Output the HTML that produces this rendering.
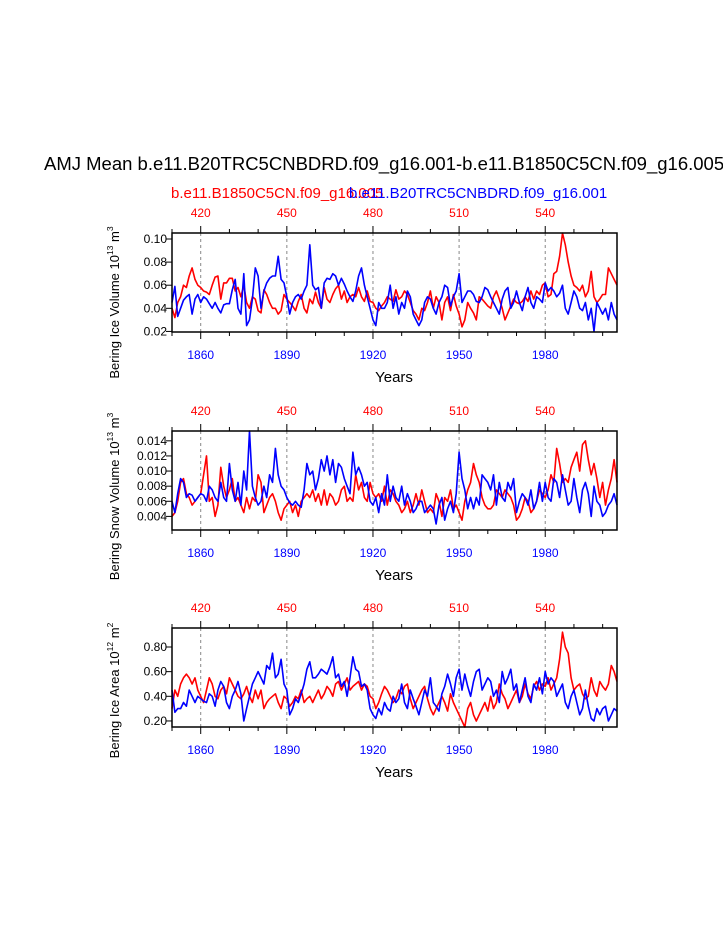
<!DOCTYPE html>
<html><head><meta charset="utf-8"><style>
body{margin:0;background:#fff;width:723px;height:935px;overflow:hidden}
svg{font-family:"Liberation Sans",sans-serif}
</style></head><body>
<svg id="chart" width="723" height="935" xmlns="http://www.w3.org/2000/svg">
<text x="44" y="170" font-size="18.5">AMJ Mean b.e11.B20TRC5CNBDRD.f09_g16.001-b.e11.B1850C5CN.f09_g16.005</text>
<text x="171" y="198" font-size="15" fill="#f00">b.e11.B1850C5CN.f09_g16.005</text>
<text x="349" y="198" font-size="15" fill="#00f">b.e11.B20TRC5CNBDRD.f09_g16.001</text>
</svg>
<script>
const years0 = 1850;
const redYear0 = 410;
const xTicksBottom = [1860,1890,1920,1950,1980];
const xTicksTop = [420,450,480,510,540];
const iceVolBlue = [.045,.059,.033,.040,.047,.050,.052,.035,.048,.052,.045,.050,.048,.044,.040,.045,.040,.036,.043,.044,.044,.056,.065,.040,.035,.070,.025,.030,.048,.075,.068,.040,.055,.062,.066,.068,.068,.085,.065,.062,.050,.035,.045,.050,.052,.048,.055,.060,.095,.060,.056,.058,.040,.062,.066,.065,.070,.068,.060,.066,.061,.055,.050,.046,.055,.068,.075,.060,.050,.040,.030,.025,.045,.040,.040,.045,.060,.040,.050,.035,.045,.040,.055,.050,.035,.030,.025,.030,.045,.050,.048,.040,.035,.045,.050,.060,.058,.042,.050,.055,.070,.045,.050,.055,.055,.052,.046,.045,.050,.058,.056,.050,.045,.040,.035,.048,.055,.058,.040,.045,.055,.045,.038,.050,.058,.045,.040,.050,.048,.045,.062,.055,.058,.055,.050,.053,.060,.040,.035,.045,.055,.050,.040,.038,.045,.030,.040,.020,.045,.040,.035,.040,.030,.045,.035,.030];
const iceVolRed = [.040,.032,.045,.050,.060,.058,.068,.075,.065,.060,.058,.055,.054,.052,.060,.067,.068,.048,.062,.062,.066,.066,.055,.058,.050,.060,.045,.040,.050,.048,.038,.036,.056,.052,.045,.040,.040,.035,.038,.052,.048,.045,.042,.038,.046,.052,.040,.036,.048,.044,.054,.045,.040,.058,.048,.045,.052,.057,.060,.048,.055,.045,.050,.052,.050,.058,.050,.046,.055,.046,.045,.040,.038,.042,.045,.050,.048,.046,.056,.048,.050,.055,.052,.045,.038,.035,.030,.040,.038,.045,.055,.040,.050,.045,.030,.045,.050,.038,.052,.042,.035,.024,.030,.045,.040,.036,.030,.050,.048,.045,.042,.040,.050,.055,.048,.040,.030,.036,.042,.048,.045,.044,.046,.050,.046,.055,.048,.055,.052,.060,.062,.050,.052,.070,.072,.085,.105,.095,.080,.068,.060,.058,.055,.060,.050,.055,.072,.050,.045,.048,.052,.052,.075,.070,.065,.060];
const snowBlue = [.006,.0045,.007,.009,.0085,.0065,.007,.0068,.006,.0065,.007,.0068,.006,.008,.0075,.0065,.006,.0085,.0065,.006,.011,.0075,.006,.0085,.0055,.010,.0075,.0153,.008,.0065,.0055,.006,.008,.0065,.0095,.0085,.013,.0095,.008,.0075,.0065,.0058,.0055,.006,.0055,.0052,.0075,.011,.0095,.010,.0075,.009,.0115,.010,.012,.0095,.0115,.0085,.011,.0105,.009,.008,.007,.0125,.0095,.0105,.0095,.008,.0085,.006,.0055,.0065,.0045,.007,.0055,.0095,.006,.008,.0065,.006,.008,.0055,.007,.006,.0045,.005,.006,.006,.0045,.005,.0055,.005,.003,.0055,.0065,.0035,.005,.006,.0045,.007,.0125,.009,.0075,.005,.0065,.005,.0065,.0055,.0095,.009,.0085,.0075,.0095,.0055,.0085,.0065,.006,.0085,.0075,.009,.0045,.006,.007,.0065,.0055,.0075,.005,.006,.0085,.006,.0085,.0065,.006,.009,.0085,.0065,.0095,.0075,.0055,.006,.009,.0065,.0045,.0075,.0085,.007,.004,.008,.006,.0055,.004,.0045,.0055,.006,.007,.0055];
const snowRed = [.004,.0045,.006,.0085,.009,.007,.0065,.0055,.006,.0065,.007,.0095,.012,.006,.0065,.004,.0055,.0105,.008,.0065,.0075,.009,.006,.0065,.0055,.0045,.0065,.005,.0065,.006,.0095,.0085,.0045,.0055,.0065,.007,.006,.0045,.0035,.005,.0055,.006,.0045,.0055,.004,.006,.0065,.007,.0065,.0075,.006,.007,.0055,.0075,.0055,.007,.0065,.0055,.006,.0075,.008,.006,.0065,.006,.0095,.0075,.0085,.0065,.006,.0085,.007,.0065,.007,.006,.008,.0055,.0075,.007,.006,.0055,.0045,.005,.006,.0045,.0055,.007,.0055,.0075,.006,.0045,.005,.0045,.007,.006,.004,.0065,.006,.0075,.005,.0055,.0045,.0035,.006,.0075,.0085,.011,.0095,.0085,.0065,.0055,.005,.005,.0055,.0075,.007,.0065,.0075,.007,.0065,.0055,.0035,.004,.005,.0065,.006,.0045,.005,.006,.0075,.007,.0065,.0075,.0095,.0085,.013,.011,.0085,.009,.0085,.0105,.0115,.0125,.010,.0135,.014,.0115,.0095,.011,.009,.0065,.0085,.0055,.0075,.009,.0115,.0085];
const areaBlue = [.45,.27,.30,.30,.35,.32,.45,.40,.35,.40,.38,.36,.35,.42,.40,.32,.45,.52,.48,.35,.30,.40,.45,.52,.42,.20,.30,.40,.50,.55,.60,.55,.50,.65,.62,.75,.55,.58,.70,.50,.45,.25,.30,.38,.35,.42,.50,.62,.68,.55,.55,.58,.62,.60,.58,.64,.72,.55,.58,.48,.52,.40,.55,.72,.62,.60,.48,.50,.45,.30,.25,.22,.30,.25,.35,.30,.28,.40,.35,.38,.50,.35,.30,.45,.38,.32,.25,.35,.45,.40,.55,.35,.32,.28,.42,.48,.58,.50,.40,.55,.62,.45,.58,.48,.40,.52,.60,.62,.45,.50,.55,.52,.40,.45,.35,.60,.50,.55,.62,.45,.50,.35,.45,.55,.40,.35,.50,.45,.55,.42,.60,.50,.55,.52,.40,.45,.50,.35,.30,.40,.45,.35,.25,.30,.45,.32,.22,.20,.30,.25,.30,.32,.20,.25,.30,.28];
const areaRed = [.30,.45,.40,.50,.55,.58,.55,.50,.55,.45,.40,.35,.45,.55,.50,.40,.38,.45,.48,.42,.55,.50,.45,.40,.38,.42,.48,.40,.35,.45,.38,.45,.30,.35,.38,.40,.42,.35,.30,.40,.38,.32,.35,.40,.38,.45,.35,.38,.40,.35,.40,.45,.38,.42,.48,.45,.40,.50,.52,.45,.50,.55,.45,.48,.50,.52,.45,.50,.48,.40,.38,.30,.35,.42,.48,.45,.40,.35,.38,.45,.42,.48,.50,.38,.30,.35,.40,.45,.48,.38,.30,.25,.30,.35,.40,.35,.28,.42,.35,.30,.25,.20,.15,.30,.35,.25,.20,.25,.30,.35,.28,.40,.30,.35,.50,.42,.38,.30,.35,.40,.45,.35,.40,.50,.42,.38,.48,.52,.45,.50,.48,.55,.45,.50,.55,.70,.92,.80,.75,.55,.45,.48,.50,.42,.38,.40,.55,.45,.40,.52,.48,.45,.50,.65,.60,.52];
const volTicks = [0.02,0.04,0.06,0.08,0.10];
const volLabels = ["0.02","0.04","0.06","0.08","0.10"];
const snowTicks = [0.004,0.006,0.008,0.010,0.012,0.014];
const snowLabels = ["0.004","0.006","0.008","0.010","0.012","0.014"];
const areaTicks = [0.2,0.4,0.6,0.8];
const areaLabels = ["0.20","0.40","0.60","0.80"];

const NS="http://www.w3.org/2000/svg";
const svg=document.getElementById('chart');
function mk(tag,attrs,parent){const e=document.createElementNS(NS,tag);for(const k in attrs)e.setAttribute(k,attrs[k]);(parent||svg).appendChild(e);return e;}
const L=172,R=617;
const xS=y=>L+(y-1850)*(R-L)/155;

function panel(name,top,bot,ymin,ymax,ticks,labels,blue,red,titleMain,titleExp,titleUnit,unitExp,cyOff){
  const g=mk('g',{});
  
  
  const yS=v=>bot-(v-ymin)*(bot-top)/(ymax-ymin);
  xTicksBottom.forEach(t=>{const l=mk('line',{x1:xS(t),x2:xS(t),y1:top,y2:bot,stroke:'#888','stroke-dasharray':'3,3','stroke-width':1},g);
    
    });
  [[red,'#f00','red-series'],[blue,'#00f','blue-series']].forEach(([d,c,n])=>{
    const p=mk('polyline',{fill:'none',stroke:c,'stroke-width':1.6,'stroke-linejoin':'round',points:d.map((v,i)=>xS(years0+i).toFixed(1)+','+yS(v).toFixed(1)).join(' ')},g);
    
    
  });
  const b=mk('rect',{x:L,y:top,width:R-L,height:bot-top,fill:'none',stroke:'#000','stroke-width':1.5},g);
  
  
  for(let yr=1850;yr<=2005;yr+=10){
    const maj=(yr-1860)%30===0, len=maj?7:4;
    mk('line',{x1:xS(yr),x2:xS(yr),y1:bot,y2:bot+len,stroke:'#000'},g);
    mk('line',{x1:xS(yr),x2:xS(yr),y1:top,y2:top-len,stroke:'#000'},g);
  }
  xTicksBottom.forEach(t=>{const e=mk('text',{x:xS(t),y:bot+27,'font-size':12,fill:'#00f','text-anchor':'middle'},g);e.textContent=t;
    
    });
  xTicksTop.forEach(t=>{const e=mk('text',{x:xS(t-redYear0+1850),y:top-16,'font-size':12,fill:'#f00','text-anchor':'middle'},g);e.textContent=t;
    
    });
  ticks.forEach((t,i)=>{mk('line',{x1:L-6,x2:L,y1:yS(t),y2:yS(t),stroke:'#000'},g);
    const e=mk('text',{x:L-5,y:yS(t)+4,'font-size':12,'text-anchor':'end'},g);e.textContent=labels[i];
    
    });
  const yt=mk('text',{x:394,y:bot+50,'font-size':15,'text-anchor':'middle'},g);yt.textContent='Years';
  
  
  const cy=(top+bot)/2+cyOff;
  const t=mk('text',{transform:`translate(119,${cy}) rotate(-90)`,'font-size':13,'text-anchor':'middle'},g);
  
  
  t.innerHTML=`${titleMain} 10<tspan dy="-6" font-size="8.5">${titleExp}</tspan><tspan dy="6"> ${titleUnit}</tspan><tspan dy="-6" font-size="8.5">${unitExp}</tspan>`;
}
panel('ice-volume',233,332,0.0195,0.1052,volTicks,volLabels,iceVolBlue,iceVolRed,'Bering Ice Volume','13','m','3',20);
panel('snow-volume',431,530,0.0022,0.0153,snowTicks,snowLabels,snowBlue,snowRed,'Bering Snow Volume','13','m','3',16);
panel('ice-area',628,727,0.151,0.954,areaTicks,areaLabels,areaBlue,areaRed,'Bering Ice Area','12','m','2',13);
</script>
</body></html>
